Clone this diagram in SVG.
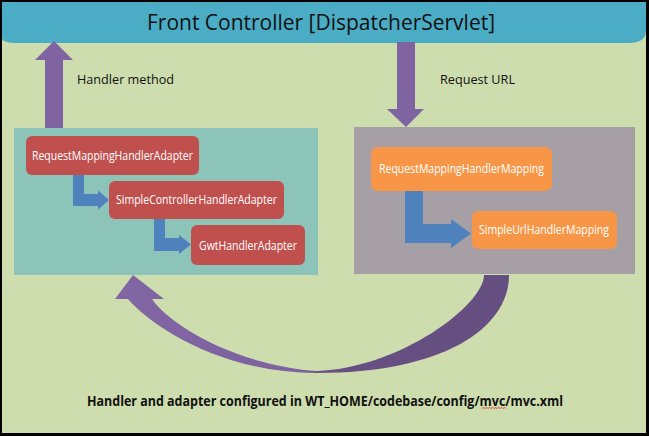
<svg xmlns="http://www.w3.org/2000/svg" width="649" height="436" viewBox="0 0 649 436">
<defs>
<style>
.t{font-family:"Open Sans","Liberation Sans",sans-serif;}
.w{fill:#ffffff;font-size:12px;}
.lbl{fill:#111111;font-size:13px;}
.purple{fill:#8064A2;}
.blue{fill:#4F81BD;}
.red{fill:#C0504D;}
.orange{fill:#F79646;}
</style>
<linearGradient id="cg" x1="0" y1="0" x2="1" y2="0">
<stop offset="0" stop-color="#8266A4"/>
<stop offset="0.47" stop-color="#7E62A0"/>
<stop offset="0.53" stop-color="#694F84"/>
<stop offset="1" stop-color="#654E80"/>
</linearGradient>
</defs>
<rect x="0" y="0" width="649" height="436" fill="#000000"/>
<rect x="2" y="2" width="644" height="431" fill="#CEDDAD"/>
<g id="header">
<path d="M2,2 H646 V31 Q646,43 628,43 H18 Q2,43 2,38 Z" fill="#4BACC6"/>
<text class="t" x="321" y="30" text-anchor="middle" font-size="22" fill="#111111" textLength="348" lengthAdjust="spacingAndGlyphs">Front Controller [DispatcherServlet]</text>
</g>
<g id="adapters">
<rect x="14" y="128" width="304" height="147" fill="#8DC4BA"/>
</g>
<g id="mappings">
<rect x="354" y="127" width="281" height="147" fill="#A6A0A6"/>
</g>
<g id="connectors">
<path class="purple" d="M45,128 V60 H35 L54,41 L73,60 H63 V128 Z"/>
<path class="purple" d="M397,42 H415 V109 H424 L406,127 L387,109 H397 Z"/>
<path class="blue" d="M73,175 H84 V194 H98 V190.5 L109,200 L98,209.5 V206 H73 Z"/>
<path class="blue" d="M154,219 H165 V238 H179 V235 L191,244.5 L179,254 V251 H154 Z"/>
<path class="blue" d="M405,191 H423 V224 H451 V219 L471,233.5 L451,248 V243 H405 Z"/>
<path fill="url(#cg)" d="M509,275 C509,330 440,373 317,373 C220,373 150,325 128,299 L115,299 L133,275 L164,299 L152,299 C170,325 235,365 317,371 C400,368 484,305 484,275 Z"/>
</g>
<g id="lbl-handler-method">
<text class="t lbl" x="77" y="84" textLength="97" lengthAdjust="spacingAndGlyphs">Handler method</text>
</g>
<g id="lbl-request-url">
<text class="t lbl" x="440" y="84" textLength="75" lengthAdjust="spacingAndGlyphs">Request URL</text>
</g>
<g id="RequestMappingHandlerAdapter">
<rect class="red" x="26" y="136" width="173" height="39" rx="6"/>
<text class="t w" x="112.5" y="160" text-anchor="middle" textLength="161" lengthAdjust="spacingAndGlyphs">RequestMappingHandlerAdapter</text>
</g>
<g id="SimpleControllerHandlerAdapter">
<rect class="red" x="109" y="181" width="175" height="38" rx="6"/>
<text class="t w" x="196.5" y="204" text-anchor="middle" textLength="161" lengthAdjust="spacingAndGlyphs">SimpleControllerHandlerAdapter</text>
</g>
<g id="GwtHandlerAdapter">
<rect class="red" x="191" y="225" width="114" height="40" rx="6"/>
<text class="t w" x="248" y="250" text-anchor="middle" textLength="98" lengthAdjust="spacingAndGlyphs">GwtHandlerAdapter</text>
</g>
<g id="RequestMappingHandlerMapping">
<rect class="orange" x="371" y="147" width="181" height="44" rx="7"/>
<text class="t w" x="461.5" y="173" text-anchor="middle" textLength="165" lengthAdjust="spacingAndGlyphs">RequestMappingHandlerMapping</text>
</g>
<g id="SimpleUrlHandlerMapping">
<rect class="orange" x="472" y="211" width="145" height="38" rx="6"/>
<text class="t w" x="544" y="234" text-anchor="middle" textLength="130" lengthAdjust="spacingAndGlyphs">SimpleUrlHandlerMapping</text>
</g>
<g id="footer">
<text class="t" x="87" y="406" font-size="13.5" font-weight="bold" fill="#111111" textLength="476" lengthAdjust="spacingAndGlyphs">Handler and adapter configured in WT_HOME/codebase/config/mvc/mvc.xml</text>
<path d="M482,408.5 l1.5,-1 l1.5,1 l1.5,-1 l1.5,1 l1.5,-1 l1.5,1 l1.5,-1 l1.5,1 l1.5,-1 l1.5,1 l1.5,-1 l1.5,1 l1.5,-1 l1.5,1 l1.5,-1 l1.5,1" fill="none" stroke="#E03030" stroke-width="0.8"/>
</g>
</svg>
